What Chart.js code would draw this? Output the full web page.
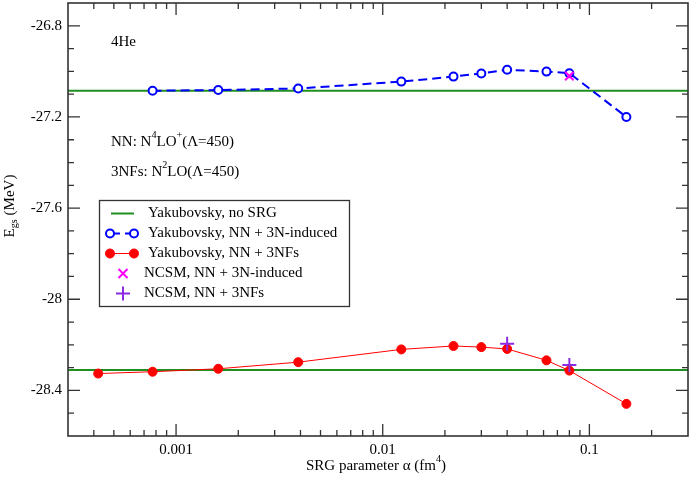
<!DOCTYPE html>
<html>
<head>
<meta charset="utf-8">
<script src="https://cdn.jsdelivr.net/npm/chart.js@4.4.1/dist/chart.umd.min.js"></script>
<style>
  html, body { margin: 0; padding: 0; background: #fff; }
  #wrap { width: 692px; height: 483px; position: relative; }
</style>
</head>
<body>
<div id="wrap"><canvas id="chart"></canvas></div>
<script>
// SRG parameter values (fm^4) and ground-state energies (MeV)
const alphaInduced = [0.00077, 0.0016, 0.0039, 0.0123, 0.022, 0.030, 0.040, 0.062, 0.080, 0.151];
const energyInduced = [-27.085, -27.082, -27.075, -27.045, -27.023, -27.009, -26.993, -27.001, -27.008, -27.200];
const alpha3NF = [0.00042, 0.00077, 0.0016, 0.0039, 0.0123, 0.022, 0.030, 0.040, 0.062, 0.080, 0.151];
const energy3NF = [-28.326, -28.318, -28.305, -28.276, -28.220, -28.205, -28.210, -28.218, -28.268, -28.313, -28.459];
const ncsmInducedAlpha = [0.080];
const ncsmInducedEnergy = [-27.020];
const ncsm3NFAlpha = [0.040, 0.080];
const ncsm3NFEnergy = [-28.195, -28.289];
const noSrgInduced = -27.085;
const noSrg3NF = -28.310;

const xRange = [0.0003, 0.3];
const yRange = [-28.6, -26.7];
const xTicks = [0.001, 0.01, 0.1];
const yTicks = [-28.4, -28, -27.6, -27.2, -26.8];

const GREEN = '#1f8f1f';
const BLUE = '#0000ff';
const RED = '#ff0000';
const MAGENTA = '#ff00ff';
const PURPLE = '#8a2be2';
const FONT = '"Liberation Serif", "DejaVu Serif", serif';

const toPts = (xs, ys) => xs.map((x, i) => ({ x: x, y: ys[i] }));

// draw text with super/subscript pieces
function drawRich(ctx, parts, x, y, size) {
  let cx = x;
  parts.forEach(p => {
    const s = p.sup || p.sub ? size * 0.68 : size;
    ctx.font = s + 'px ' + FONT;
    let dy = 0;
    if (p.sup) dy = -size * 0.42;
    if (p.sub) dy = size * 0.3;
    ctx.fillText(p.t, cx, y + dy);
    cx += ctx.measureText(p.t).width;
  });
  return cx - x;
}
function richWidth(ctx, parts, size) {
  let w = 0;
  parts.forEach(p => {
    const s = p.sup || p.sub ? size * 0.68 : size;
    ctx.font = s + 'px ' + FONT;
    w += ctx.measureText(p.t).width;
  });
  return w;
}

const framePlugin = {
  id: 'frame',
  afterDraw(chart) {
    const ctx = chart.ctx;
    const a = chart.chartArea;
    const xs = chart.scales.x, ys = chart.scales.y;
    ctx.save();
    ctx.strokeStyle = '#333';
    ctx.lineWidth = 1.6;
    ctx.strokeRect(a.left, a.top, a.right - a.left, a.bottom - a.top);

    ctx.lineWidth = 1.3;
    ctx.beginPath();
    // y ticks every 0.1, major at labelled values
    for (let k = Math.round(yRange[0] * 10); k <= Math.round(yRange[1] * 10); k++) {
      const v = k / 10;
      const py = ys.getPixelForValue(v);
      if (py <= a.top + 1 || py >= a.bottom - 1) continue;
      const major = yTicks.some(t => Math.abs(t - v) < 1e-6);
      const len = major ? 12 : 6;
      ctx.moveTo(a.left, py); ctx.lineTo(a.left + len, py);
      ctx.moveTo(a.right, py); ctx.lineTo(a.right - len, py);
    }
    // x ticks: decades major, 2..9 minor
    for (let e = -4; e <= 0; e++) {
      for (let m = 1; m <= 9; m++) {
        const v = m * Math.pow(10, e);
        if (v <= xRange[0] * 1.0001 || v >= xRange[1] * 0.9999) continue;
        const px = xs.getPixelForValue(v);
        const len = m === 1 ? 12 : 6;
        ctx.moveTo(px, a.bottom); ctx.lineTo(px, a.bottom - len);
        ctx.moveTo(px, a.top); ctx.lineTo(px, a.top + len);
      }
    }
    ctx.stroke();

    // annotations
    ctx.fillStyle = '#000';
    ctx.textBaseline = 'middle';
    ctx.textAlign = 'left';
    drawRich(ctx, [{ t: '4He' }], 111, 42, 15);
    drawRich(ctx, [{ t: 'NN: N' }, { t: '4', sup: true }, { t: 'LO' }, { t: '+', sup: true }, { t: '(\u039B=450)' }], 111, 142, 15);
    drawRich(ctx, [{ t: '3NFs: N' }, { t: '2', sup: true }, { t: 'LO(\u039B=450)' }], 111, 172, 15);

    // axis titles
    const xt = [{ t: 'SRG parameter \u03B1 (fm' }, { t: '4', sup: true }, { t: ')' }];
    const xw = richWidth(ctx, xt, 15);
    drawRich(ctx, xt, 376 - xw / 2, 466, 15);
    const yt = [{ t: 'E' }, { t: 'gs', sub: true }, { t: ' (MeV)' }];
    const yw = richWidth(ctx, yt, 15);
    ctx.save();
    ctx.translate(10, 206);
    ctx.rotate(-Math.PI / 2);
    drawRich(ctx, yt, -yw / 2, 0, 15);
    ctx.restore();

    // legend box
    ctx.fillStyle = '#fff';
    ctx.fillRect(99.5, 200.5, 250, 106);
    ctx.strokeStyle = '#333';
    ctx.lineWidth = 1.3;
    ctx.strokeRect(99.5, 200.5, 250, 106);
    const ds = chart.data.datasets;
    const rows = [ds[0], ds[2], ds[3], ds[4], ds[5]];
    rows.forEach((d, i) => {
      const cy = 213.5 + i * 20;
      ctx.save();
      if (d.showLine !== false) {
        ctx.strokeStyle = d.borderColor;
        ctx.lineWidth = d.borderWidth;
        ctx.setLineDash(d.borderDash || []);
        ctx.beginPath();
        ctx.moveTo(111, cy); ctx.lineTo(134, cy);
        ctx.stroke();
        ctx.setLineDash([]);
      }
      const marks = d.showLine === false ? [123] : (d.pointRadius > 0 ? [110, 134] : []);
      marks.forEach(mx => {
        ctx.strokeStyle = d.pointBorderColor || d.borderColor;
        ctx.fillStyle = d.pointBackgroundColor;
        ctx.lineWidth = d.pointBorderWidth;
        const r = d.pointRadius;
        ctx.beginPath();
        if (d.pointStyle === 'crossRot') {
          const q = r * 0.75;
          ctx.moveTo(mx - q, cy - q); ctx.lineTo(mx + q, cy + q);
          ctx.moveTo(mx - q, cy + q); ctx.lineTo(mx + q, cy - q);
          ctx.stroke();
        } else if (d.pointStyle === 'cross') {
          ctx.moveTo(mx - r, cy); ctx.lineTo(mx + r, cy);
          ctx.moveTo(mx, cy - r); ctx.lineTo(mx, cy + r);
          ctx.stroke();
        } else {
          ctx.arc(mx, cy, r, 0, Math.PI * 2);
          ctx.fill();
          ctx.stroke();
        }
      });
      ctx.restore();
      ctx.fillStyle = '#000';
      ctx.font = '15px ' + FONT;
      ctx.textBaseline = 'middle';
      ctx.fillText(d.label, i < 3 ? 148 : 144, cy);
    });
    ctx.restore();
  }
};

const ctx = document.getElementById('chart').getContext('2d');
new Chart(ctx, {
  type: 'line',
  data: {
    datasets: [
      {
        label: 'Yakubovsky, no SRG',
        data: toPts(xRange, [noSrgInduced, noSrgInduced]),
        borderColor: GREEN, borderWidth: 2, pointRadius: 0, order: 5
      },
      {
        label: 'no SRG (3NFs)',
        data: toPts(xRange, [noSrg3NF, noSrg3NF]),
        borderColor: GREEN, borderWidth: 2, pointRadius: 0, order: 5
      },
      {
        label: 'Yakubovsky, NN + 3N-induced',
        data: toPts(alphaInduced, energyInduced),
        borderColor: BLUE, borderWidth: 2, borderDash: [9, 5],
        pointRadius: 4, pointBorderWidth: 2, pointBackgroundColor: '#fff', pointBorderColor: BLUE,
        order: 3
      },
      {
        label: 'Yakubovsky, NN + 3NFs',
        data: toPts(alpha3NF, energy3NF),
        borderColor: RED, borderWidth: 1,
        pointRadius: 4.5, pointBorderWidth: 1, pointBackgroundColor: RED, pointBorderColor: RED,
        order: 3
      },
      {
        label: 'NCSM, NN + 3N-induced',
        data: toPts(ncsmInducedAlpha, ncsmInducedEnergy),
        showLine: false, pointStyle: 'crossRot', pointRadius: 6, pointBorderWidth: 2,
        borderColor: MAGENTA, pointBorderColor: MAGENTA, pointBackgroundColor: MAGENTA, order: 1
      },
      {
        label: 'NCSM, NN + 3NFs',
        data: toPts(ncsm3NFAlpha, ncsm3NFEnergy),
        showLine: false, pointStyle: 'cross', pointRadius: 7, pointBorderWidth: 2,
        borderColor: PURPLE, pointBorderColor: PURPLE, pointBackgroundColor: PURPLE, order: 1
      }
    ]
  },
  options: {
    responsive: true,
    maintainAspectRatio: false,
    animation: false,
    layout: { autoPadding: false, padding: { top: 3, right: 4, left: 0, bottom: 0 } },
    plugins: { legend: { display: false }, tooltip: { enabled: false } },
    scales: {
      x: {
        type: 'logarithmic',
        min: xRange[0], max: xRange[1],
        grid: { display: false, drawTicks: false },
        border: { display: false },
        afterBuildTicks: axis => { axis.ticks = xTicks.map(v => ({ value: v })); },
        afterFit: axis => {
          axis.height = 47;
          axis.paddingLeft = 0; axis.paddingRight = 0;
        },
        ticks: {
          autoSkip: false, maxRotation: 0, padding: 5,
          font: { family: FONT, size: 15 }, color: '#000',
          callback: v => String(v)
        }
      },
      y: {
        type: 'linear',
        min: yRange[0], max: yRange[1],
        grid: { display: false, drawTicks: false },
        border: { display: false },
        afterBuildTicks: axis => { axis.ticks = yTicks.map(v => ({ value: v })); },
        afterFit: axis => {
          axis.width = 68;
          axis.paddingTop = 0; axis.paddingBottom = 0;
        },
        ticks: {
          autoSkip: false, padding: 6,
          font: { family: FONT, size: 15 }, color: '#000',
          callback: v => String(Math.round(v * 10) / 10)
        }
      }
    }
  },
  plugins: [framePlugin]
});
</script>
</body>
</html>
